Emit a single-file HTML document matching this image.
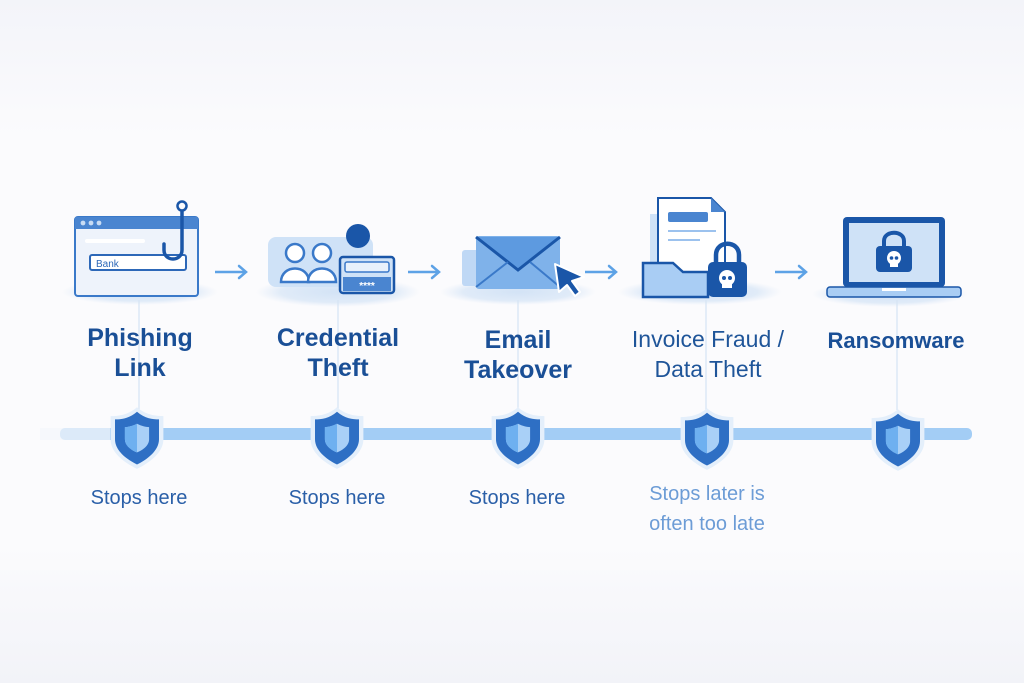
<!DOCTYPE html>
<html><head><meta charset="utf-8"><style>
html,body{margin:0;padding:0;width:1024px;height:683px;overflow:hidden;background:#f6f7fb;}
svg{display:block}
text{font-family:"Liberation Sans",sans-serif;}
</style></head><body>
<svg width="1024" height="683" viewBox="0 0 1024 683" xmlns="http://www.w3.org/2000/svg">
<defs>
<linearGradient id="bg" x1="0" y1="0" x2="0" y2="1">
<stop offset="0" stop-color="#f3f4f9"/><stop offset="0.2" stop-color="#fbfbfd"/><stop offset="0.8" stop-color="#fbfbfd"/><stop offset="1" stop-color="#f2f3f8"/></linearGradient>
<radialGradient id="sh" cx="0.5" cy="0.5" r="0.5"><stop offset="0" stop-color="#d3e3f6"/><stop offset="0.7" stop-color="#e0ebf8"/><stop offset="1" stop-color="#e6eef9" stop-opacity="0"/></radialGradient>
<g id="shield">
<path d="M0,-27 C8,-20 17,-19 24,-19 L24,2 C24,14 12,23 0,29 C-12,23 -24,14 -24,2 L-24,-19 C-17,-19 -8,-20 0,-27Z" fill="#e4effb"/>
<path d="M0,-23 C7,-17 14,-16 20,-16 L20,2 C20,12 10,20 0,25 C-10,20 -20,12 -20,2 L-20,-16 C-14,-16 -7,-17 0,-23Z" fill="#2e6fc4"/>
<path d="M0,-12 C4,-10 8,-9 11,-9 L11,2 C11,8 5,12 0,14 C-5,12 -11,8 -11,2 L-11,-9 C-8,-9 -4,-10 0,-12Z" fill="#a9d0f7"/>
<path d="M0,-12 C-4,-10 -8,-9 -11,-9 L-11,2 C-11,8 -5,12 0,14Z" fill="#6eb0f0"/>
</g>
<g id="arrow"><line x1="0" y1="0" x2="30" y2="0" stroke="#5da2e6" stroke-width="2.5"/><path d="M24,-6 L31,0 L24,6" fill="none" stroke="#5da2e6" stroke-width="2.5" stroke-linecap="round"/></g>
</defs>
<rect width="1024" height="683" fill="url(#bg)"/>

<ellipse cx="140" cy="292" rx="78" ry="13" fill="url(#sh)"/>
<ellipse cx="338" cy="292" rx="82" ry="15" fill="url(#sh)"/>
<ellipse cx="518" cy="292" rx="78" ry="13" fill="url(#sh)"/>
<ellipse cx="700" cy="292" rx="82" ry="13" fill="url(#sh)"/>
<ellipse cx="890" cy="294" rx="78" ry="13" fill="url(#sh)"/>

<g stroke="#d6e4f4" stroke-width="1.2">
<line x1="139" y1="300" x2="139" y2="410"/><line x1="338" y1="300" x2="338" y2="410"/>
<line x1="518" y1="300" x2="518" y2="410"/><line x1="706" y1="300" x2="706" y2="410"/>
<line x1="897" y1="300" x2="897" y2="410"/>
</g>

<rect x="60" y="428" width="912" height="12" rx="5" fill="#a3cdf5"/>
<rect x="40" y="428" width="70" height="12" fill="#f3f6fb" opacity="0.7"/>
<g transform="translate(137,437) scale(1.1)"><use href="#shield"/></g>
<g transform="translate(337,437) scale(1.1)"><use href="#shield"/></g>
<g transform="translate(518,437) scale(1.1)"><use href="#shield"/></g>
<g transform="translate(707,438) scale(1.1)"><use href="#shield"/></g>
<g transform="translate(898,439) scale(1.1)"><use href="#shield"/></g>

<use href="#arrow" x="215" y="272"/>
<use href="#arrow" x="408" y="272"/>
<use href="#arrow" x="585" y="272"/>
<use href="#arrow" x="775" y="272"/>

<rect x="75" y="217" width="123" height="79" rx="3" fill="#eef3fb" stroke="#3a79c9" stroke-width="2"/>
<rect x="75" y="217" width="123" height="12" fill="#4a85d0"/>
<circle cx="83" cy="223" r="2.4" fill="#c8dcf4"/><circle cx="91" cy="223" r="2.4" fill="#c8dcf4"/><circle cx="99" cy="223" r="2.4" fill="#c8dcf4"/>
<rect x="85" y="239" width="60" height="4" rx="2" fill="#fff"/>
<rect x="90" y="255" width="96" height="15" rx="2" fill="#fff" stroke="#2d68b8" stroke-width="2"/>
<text x="96" y="267" font-size="10" fill="#2d68b8">Bank</text>
<path d="M182,212 L182,250 C182,262 164,262 164,250 L164,244" fill="none" stroke="#1a56a8" stroke-width="3.5" stroke-linecap="round"/>
<circle cx="182" cy="206" r="4.5" fill="none" stroke="#1a56a8" stroke-width="2.5"/>

<rect x="268" y="237" width="105" height="50" rx="8" fill="#cfe2f7"/>
<circle cx="358" cy="236" r="12" fill="#1a56a8"/>
<path d="M339,270 C339,252 377,252 377,270Z" fill="#1a56a8"/>
<g fill="#fff" stroke="#3a79c9" stroke-width="2.5">
<circle cx="295" cy="253" r="9"/><path d="M281,282 C281,264 309,264 309,282Z"/>
<circle cx="322" cy="253" r="9"/><path d="M308,282 C308,264 336,264 336,282Z"/>
</g>
<rect x="340" y="257" width="54" height="36" rx="3" fill="#cfe2f7" stroke="#1a56a8" stroke-width="2.5"/>
<rect x="345" y="262" width="44" height="10" rx="2" fill="#e8f1fb" stroke="#3a79c9" stroke-width="1.5"/>
<rect x="343" y="277" width="48" height="14" fill="#4a85d0"/>
<text x="367" y="289" font-size="10" fill="#fff" text-anchor="middle" font-weight="bold">****</text>

<rect x="462" y="250" width="30" height="36" rx="3" fill="#bfd8f5"/>
<rect x="476" y="236" width="84" height="53" rx="3" fill="#7fb2ea"/>
<path d="M476,237 L518,270 L560,237" fill="#5d9ae0" stroke="#1a56a8" stroke-width="3"/>
<path d="M476,287 L508,262 M560,287 L530,262" stroke="#3a79c9" stroke-width="2"/>
<path d="M555,264 L584,277 L572,281 L580,292 L575,296 L567,285 L559,292Z" fill="#1a56a8" stroke="#fff" stroke-width="2" stroke-linejoin="round"/>

<rect x="650" y="214" width="30" height="60" fill="#cfe2f7"/>
<path d="M658,198 L711,198 L725,212 L725,280 L658,280Z" fill="#fff" stroke="#1a56a8" stroke-width="2"/>
<path d="M711,198 L711,212 L725,212Z" fill="#4a85d0"/>
<rect x="668" y="212" width="40" height="10" rx="2" fill="#4a85d0"/>
<rect x="668" y="230" width="48" height="2" fill="#9cc2ee"/><rect x="668" y="239" width="32" height="2" fill="#9cc2ee"/>
<path d="M643,263 L673,263 L683,272 L708,272 L708,297 L643,297Z" fill="#a9cdf4" stroke="#1a56a8" stroke-width="2.5"/>
<path d="M716,262 L716,255 C716,240 739,240 739,255 L739,262" fill="none" stroke="#1a56a8" stroke-width="4.5"/>
<rect x="708" y="262" width="39" height="35" rx="5" fill="#1a56a8"/>
<circle cx="727" cy="278" r="8" fill="#fff"/><rect x="722" y="283" width="10" height="5" fill="#fff"/>
<circle cx="724" cy="278" r="2" fill="#1a56a8"/><circle cx="730" cy="278" r="2" fill="#1a56a8"/>

<rect x="843" y="217" width="102" height="70" rx="4" fill="#1a56a8"/>
<rect x="849" y="223" width="90" height="59" fill="#cfe2f7"/>
<path d="M884,247 L884,241 C884,230 904,230 904,241 L904,247" fill="none" stroke="#1a56a8" stroke-width="4"/>
<rect x="876" y="246" width="36" height="26" rx="4" fill="#1a56a8"/>
<circle cx="894" cy="258" r="7" fill="#fff"/><rect x="890" y="262" width="8" height="5" fill="#fff"/>
<circle cx="891.5" cy="258" r="1.8" fill="#1a56a8"/><circle cx="896.5" cy="258" r="1.8" fill="#1a56a8"/>
<rect x="827" y="287" width="134" height="10" rx="3" fill="#a9cdf4" stroke="#1a56a8" stroke-width="1.5"/>
<rect x="882" y="288" width="24" height="3" fill="#fff"/>

<g font-weight="bold" font-size="25" fill="#1a4f96" text-anchor="middle">
<text x="140" y="346">Phishing</text><text x="140" y="376">Link</text>
<text x="338" y="346">Credential</text><text x="338" y="376">Theft</text>
<text x="518" y="348">Email</text><text x="518" y="378">Takeover</text>
<text x="896" y="348" font-size="22">Ransomware</text>
</g>
<g font-size="23" fill="#1f5599" text-anchor="middle">
<text x="708" y="347">Invoice Fraud /</text><text x="708" y="377">Data Theft</text>
</g>
<g font-size="20" fill="#2a5fa8" text-anchor="middle">
<text x="139" y="504">Stops here</text>
<text x="337" y="504">Stops here</text>
<text x="517" y="504">Stops here</text>
</g>
<g font-size="20" fill="#6c9cd6" text-anchor="middle">
<text x="707" y="500">Stops later is</text>
<text x="707" y="530">often too late</text>
</g>
</svg>
</body></html>
